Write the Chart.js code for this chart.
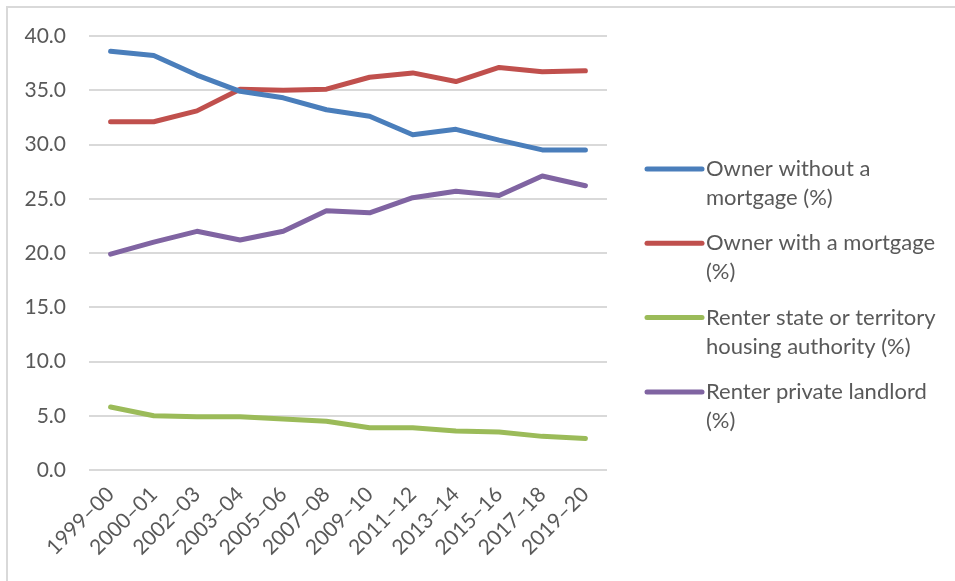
<!DOCTYPE html>
<html>
<head>
<meta charset="utf-8">
<script src="https://cdn.jsdelivr.net/npm/chart.js@4/dist/chart.umd.min.js"></script>
<style>
  html, body { margin: 0; padding: 0; background: #fff; }
  #wrap { width: 955px; height: 581px; position: relative; }
</style>
</head>
<body>
<div id="wrap"><canvas id="tenure"></canvas></div>
<script>
// Housing tenure over time, share of households
const years = ['1999–00', '2000–01', '2002–03', '2003–04', '2005–06', '2007–08',
  '2009–10', '2011–12', '2013–14', '2015–16', '2017–18', '2019–20'];
const ownerOutright = [38.6, 38.2, 36.4, 34.9, 34.3, 33.2, 32.6, 30.9, 31.4, 30.4, 29.5, 29.5];
const ownerMortgage = [32.1, 32.1, 33.1, 35.1, 35.0, 35.1, 36.2, 36.6, 35.8, 37.1, 36.7, 36.8];
const renterPublic = [5.8, 5.0, 4.9, 4.9, 4.7, 4.5, 3.9, 3.9, 3.6, 3.5, 3.1, 2.9];
const renterPrivate = [19.9, 21.0, 22.0, 21.2, 22.0, 23.9, 23.7, 25.1, 25.7, 25.3, 27.1, 26.2];
const yTicks = [0, 5, 10, 15, 20, 25, 30, 35, 40];

const FONT = 'Lato, "Open Sans", sans-serif';

const series = [
  { label: ['Owner without a', 'mortgage (%)'], data: ownerOutright, color: '#4a7ebb' },
  { label: ['Owner with a mortgage', '(%)'], data: ownerMortgage, color: '#c0504d' },
  { label: ['Renter state or territory', 'housing authority (%)'], data: renterPublic, color: '#9bbb59' },
  { label: ['Renter private landlord', '(%)'], data: renterPrivate, color: '#8064a2' },
];

// legend with wrapped text, drawn to the right of the plot
const sideLegend = {
  id: 'sideLegend',
  afterDraw(chart) {
    const ctx = chart.ctx;
    const x0 = chart.chartArea.right + 40;
    let y = 169;
    ctx.save();
    ctx.font = '22px ' + FONT;
    ctx.textBaseline = 'middle';
    ctx.fillStyle = '#595959';
    chart.data.datasets.forEach(ds => {
      ctx.strokeStyle = ds.borderColor;
      ctx.lineWidth = 5;
      ctx.lineCap = 'round';
      ctx.beginPath();
      ctx.moveTo(x0, y);
      ctx.lineTo(x0 + 55, y);
      ctx.stroke();
      ds.lines.forEach((t, i) => ctx.fillText(t, x0 + 59, y + i * 29));
      y += 74.3;
    });
    ctx.restore();
  }
};

// thin frame along the top and left edges
const frame = {
  id: 'frame',
  beforeDraw(chart) {
    const ctx = chart.ctx;
    ctx.save();
    ctx.strokeStyle = '#d9d9d9';
    ctx.lineWidth = 2;
    ctx.beginPath();
    ctx.moveTo(7, chart.height);
    ctx.lineTo(7, 7);
    ctx.lineTo(chart.width, 7);
    ctx.stroke();
    ctx.restore();
  }
};

new Chart(document.getElementById('tenure'), {
  type: 'line',
  data: {
    labels: years,
    datasets: series.map(s => ({
      label: s.label.join(' '),
      lines: s.label,
      data: s.data,
      borderColor: s.color,
      backgroundColor: s.color,
      borderWidth: 5,
      borderCapStyle: 'round',
      borderJoinStyle: 'round',
      pointRadius: 0,
      tension: 0,
    })),
  },
  options: {
    responsive: true,
    maintainAspectRatio: false,
    animation: false,
    layout: { padding: { left: 0, top: 36, right: 348, bottom: 0 } },
    plugins: { legend: { display: false }, tooltip: { enabled: false } },
    scales: {
      x: {
        offset: true,
        grid: { display: false },
        border: { display: false },
        ticks: {
          color: '#595959',
          font: { family: FONT, size: 21 },
          minRotation: 45,
          maxRotation: 45,
          autoSkip: false,
          padding: 4,
        },
        afterFit: s => { s.height = 111; },
      },
      y: {
        min: 0,
        max: 40,
        afterBuildTicks: s => { s.ticks = yTicks.map(v => ({ value: v })); },
        grid: { color: '#d9d9d9', lineWidth: 2, drawTicks: false },
        border: { display: false },
        ticks: {
          color: '#595959',
          font: { family: FONT, size: 21 },
          padding: 23,
          callback: v => v.toFixed(1),
        },
        afterFit: s => { s.width = 89; },
      },
    },
  },
  plugins: [frame, sideLegend],
});
</script>
</body>
</html>
